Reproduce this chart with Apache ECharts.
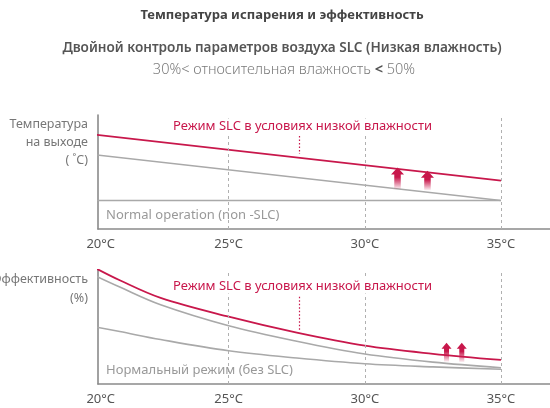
<!DOCTYPE html>
<html>
<head>
<meta charset="utf-8">
<script src="https://cdn.jsdelivr.net/npm/echarts@6/dist/echarts.min.js"></script>
<style>
  html, body { margin: 0; padding: 0; background: #fff; }
  #chart { width: 550px; height: 408px; }
</style>
</head>
<body>
<div id="chart"></div>
<script>
// Evaporator temperature (°C) on the horizontal axis
const tempTicks = [20, 25, 30, 35];
const guideTemps = [25, 30, 35];

// Upper panel: outlet temperature (relative units)
const outletX = [20, 35];
const outletSLC = [83, 42.4];
const outletNormal = [65.4, 25];
const outletBase = [25, 25];
const outletArrows = [[31.2, 35, 54], [32.3, 34, 51]];   // [temp, from, to]
const outletPointer = [27.6, 81.6, 65.8];                // [temp, from, to]

// Lower panel: efficiency (relative units)
const effX = [20, 21, 22.5, 25, 27.5, 30, 32.5, 35];
const effSLC = [103, 91, 75.5, 59, 45, 33.6, 26.5, 21.1];
const effUpper = [96, 85, 69.5, 51.1, 37.5, 26.3, 19.2, 14.3];
const effNormal = [50.5, 46, 39, 29.2, 22.8, 17.8, 15, 12.9];
const effArrows = [[33.0, 19.6, 36.2], [33.56, 19.3, 36.2]];
const effPointer = [27.6, 76.6, 46.5];

const RED = '#c8174b';
const GRAY = '#a9a9a9';
const AXIS = '#8a8a8a';
const FONT = '"Noto Sans", "Open Sans", sans-serif';
const X_MIN = 20.2;
const X_MAX = 36.8;

const zip = (xs, ys) => xs.map((x, i) => [x, ys[i]]);

function xAxisFor(gridIndex) {
  return {
    type: 'value', gridIndex, min: X_MIN, max: X_MAX,
    axisLine: { show: true, lineStyle: { color: AXIS, width: 1.6 } },
    axisTick: { show: false },
    splitLine: { show: false },
    axisLabel: {
      customValues: tempTicks.map(v => Math.max(v, X_MIN + 0.1)),
      formatter: v => Math.round(v) + '°C',
      color: '#555', fontSize: 13, fontFamily: FONT, margin: 9
    }
  };
}
function yAxisFor(gridIndex) {
  return {
    type: 'value', gridIndex, min: 0, max: 100,
    axisLine: { show: true, lineStyle: { color: AXIS, width: 1.6 } },
    axisTick: { show: false }, axisLabel: { show: false }, splitLine: { show: false }
  };
}

function line(idx, data, color, width, z) {
  return {
    type: 'line', xAxisIndex: idx, yAxisIndex: idx, data, clip: true,
    smooth: 0.35, symbol: 'none', z: z || 2,
    lineStyle: { color, width }
  };
}

// Dashed vertical guides at the labelled temperatures
function guides() {
  return {
    silent: true, symbol: 'none', label: { show: false },
    lineStyle: { color: '#b0b0b0', width: 1, type: [3, 3] },
    data: guideTemps.map(t => ({ xAxis: t }))
  };
}

function pointer(p) {
  return {
    silent: true, symbol: 'none', label: { show: false },
    lineStyle: { color: RED, width: 1.2, type: [1.5, 2] },
    data: [[{ coord: [p[0], p[1]] }, { coord: [p[0], p[2]] }]]
  };
}

function arrows(idx, data, headW, shaftW, headH) {
  return {
    type: 'custom', xAxisIndex: idx, yAxisIndex: idx, data, z: 5,
    renderItem: (params, api) => {
      const b = api.coord([api.value(0), api.value(1)]);
      const t = api.coord([api.value(0), api.value(2)]);
      const cx = t[0], ty = t[1], by = b[1];
      return {
        type: 'polygon',
        shape: { points: [
          [cx, ty], [cx + headW / 2, ty + headH], [cx + shaftW / 2, ty + headH],
          [cx + shaftW / 2, by], [cx - shaftW / 2, by], [cx - shaftW / 2, ty + headH],
          [cx - headW / 2, ty + headH]
        ] },
        style: {
          fill: new echarts.graphic.LinearGradient(0, 0, 0, 1, [
            { offset: 0, color: RED },
            { offset: 0.45, color: RED },
            { offset: 1, color: 'rgba(200,23,75,0.06)' }
          ])
        }
      };
    }
  };
}

const text = (x, y, str, style) => ({
  type: 'text', x, y, z: 100,
  style: Object.assign({ text: str, fontFamily: FONT, textVerticalAlign: 'middle' }, style)
});

const chart = echarts.init(document.getElementById('chart'), null, { renderer: 'canvas' });
chart.setOption({
  animation: false,
  backgroundColor: '#fff',
  grid: [
    { left: 98, top: 115, right: 0, height: 114 },
    { left: 98, top: 270, right: 0, height: 114 }
  ],
  xAxis: [xAxisFor(0), xAxisFor(1)],
  yAxis: [yAxisFor(0), yAxisFor(1)],
  series: [
    Object.assign(line(0, zip(outletX, outletBase), GRAY, 1.6), { markLine: guides() }),
    line(0, zip(outletX, outletNormal), GRAY, 1.6),
    Object.assign(line(0, zip(outletX, outletSLC), RED, 1.6, 3), { markLine: pointer(outletPointer) }),
    arrows(0, outletArrows, 13, 6.5, 7),

    Object.assign(line(1, zip(effX, effNormal), GRAY, 1.6), { markLine: guides() }),
    line(1, zip(effX, effUpper), GRAY, 1.6),
    Object.assign(line(1, zip(effX, effSLC), RED, 1.8, 3), { markLine: pointer(effPointer) }),
    arrows(1, effArrows, 10, 5, 6)
  ],
  graphic: [
    text(282, 15, 'Температура испарения и эффективность',
      { fontSize: 13, fontWeight: 'bold', fill: '#444', textAlign: 'center' }),
    text(282, 48, 'Двойной контроль параметров воздуха SLC (Низкая влажность)',
      { fontSize: 13.6, fontWeight: 600, fill: '#555', textAlign: 'center' }),
    text(284, 70, '{a|30%< относительная влажность }{b|<}{a| 50%}', {
      textAlign: 'center',
      rich: {
        a: { fontSize: 14.5, fontWeight: 300, fill: '#7a7a7a', fontFamily: FONT },
        b: { fontSize: 14.5, fontWeight: 'bold', fill: '#555', fontFamily: FONT }
      }
    }),

    text(88, 124, 'Температура', { fontSize: 12.5, fill: '#777', textAlign: 'right' }),
    text(88, 142, 'на выходе', { fontSize: 12.5, fill: '#777', textAlign: 'right' }),
    text(88, 160, '( ˚C)', { fontSize: 12.5, fill: '#777', textAlign: 'right' }),
    text(88, 279, 'Эффективность', { fontSize: 12.5, fill: '#777', textAlign: 'right' }),
    text(88, 298, '(%)', { fontSize: 12.5, fill: '#777', textAlign: 'right' }),

    text(173, 126, 'Режим SLC в условиях низкой влажности',
      { fontSize: 13, fill: RED, textAlign: 'left', backgroundColor: '#fff', padding: [1, 0] }),
    text(173, 286, 'Режим SLC в условиях низкой влажности',
      { fontSize: 13, fill: RED, textAlign: 'left', backgroundColor: '#fff', padding: [1, 0] }),
    text(106, 215, 'Normal operation (non -SLC)', { fontSize: 13, fill: '#999', textAlign: 'left' }),
    text(106, 370, 'Нормальный режим (без SLC)', { fontSize: 13, fill: '#999', textAlign: 'left' })
  ]
});
</script>
</body>
</html>
